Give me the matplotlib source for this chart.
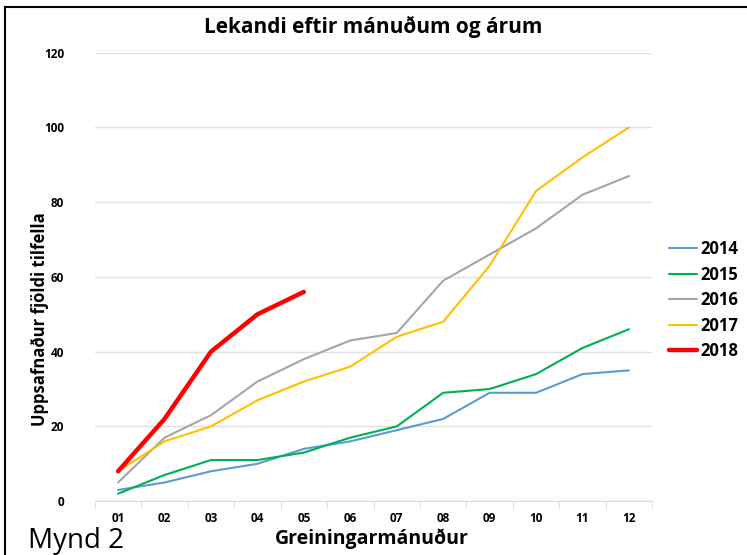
import matplotlib
matplotlib.use("Agg")
import matplotlib.pyplot as plt
from matplotlib.lines import Line2D

plt.rcParams["font.family"] = ["Open Sans", "DejaVu Sans"]

MONTHS = ["01", "02", "03", "04", "05", "06", "07", "08", "09", "10", "11", "12"]
Y2014 = [3, 5, 8, 10, 14, 16, 19, 22, 29, 29, 34, 35]
Y2015 = [2, 7, 11, 11, 13, 17, 20, 29, 30, 34, 41, 46]
Y2016 = [5, 17, 23, 32, 38, 43, 45, 59, 66, 73, 82, 87]
Y2017 = [8, 16, 20, 27, 32, 36, 44, 48, 63, 83, 92, 100]
Y2018 = [8, 22, 40, 50, 56]

SERIES = [
    ("2014", Y2014, "#5B9BD5", 1.5),
    ("2015", Y2015, "#00B050", 1.5),
    ("2016", Y2016, "#A5A5A5", 1.5),
    ("2017", Y2017, "#FFC000", 1.5),
    ("2018", Y2018, "#FF0000", 3.2),
]

fig = plt.figure(figsize=(7.47, 5.55), dpi=100)
ax = fig.add_axes([0.127, 0.097, 0.746, 0.808])

x = list(range(1, 13))
for name, vals, col, lw in SERIES:
    ax.plot(x[:len(vals)], vals, color=col, lw=lw, label=name,
            solid_capstyle="round", solid_joinstyle="round")

ax.set_xlim(0.5, 12.5)
ax.set_ylim(0, 120)
ax.set_yticks(range(0, 121, 20))
ax.set_xticks(x)
ax.set_xticklabels(MONTHS)
ax.set_xticks([i + 0.5 for i in range(0, 13)], minor=True)
ax.tick_params(axis="x", which="major", length=0, pad=8)
ax.tick_params(axis="x", which="minor", length=5, color="#D9D9D9", direction="out")
ax.tick_params(axis="y", length=0, pad=22)
for lab in ax.get_xticklabels() + ax.get_yticklabels():
    lab.set_fontsize(8.5)
    lab.set_fontweight("bold")
ax.grid(axis="y", color="#E0E0E0", lw=1)
ax.set_axisbelow(True)
for s in ["top", "right", "left"]:
    ax.spines[s].set_visible(False)
ax.spines["bottom"].set_color("#D9D9D9")

fig.text(0.5, 0.951, "Lekandi eftir mánuðum og árum", ha="center", va="center",
         fontsize=15, fontweight="bold")
fig.text(0.498, 0.03, "Greiningarmánuður", ha="center", va="center",
         fontsize=14, fontweight="bold")
fig.text(0.053, 0.425, "Uppsafnaður fjöldi tilfella", ha="center", va="center",
         rotation=90, fontsize=12, fontweight="bold")
fig.text(0.038, 0.026, "Mynd 2", ha="left", va="center", fontsize=20)

leg = fig.legend(loc="center left", bbox_to_anchor=(0.895, 0.459), frameon=False,
                 handlelength=1.7, handletextpad=0.2, labelspacing=0.45,
                 borderpad=0, borderaxespad=0,
                 prop={"size": 12, "weight": "bold"})

# ramminn efst og til vinstri
fig.add_artist(Line2D([0.007, 0.007], [0, 0.987], transform=fig.transFigure,
                      color="black", lw=1.5))
fig.add_artist(Line2D([0.007, 1.0], [0.987, 0.987], transform=fig.transFigure,
                      color="black", lw=1.5))

fig.savefig("out.png", dpi=100)
